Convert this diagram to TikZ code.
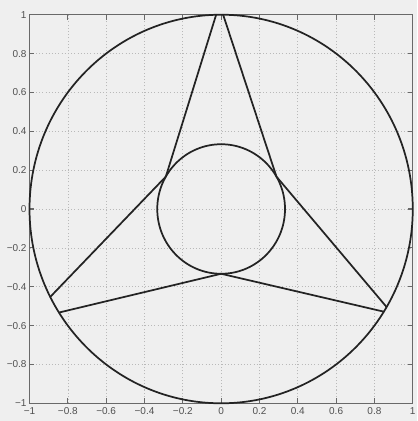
\documentclass[tikz,border=0pt]{standalone}
\usepackage{fontspec}
\setmainfont{Liberation Sans}
\definecolor{bgcol}{RGB}{239,239,239}
\definecolor{curvecol}{RGB}{35,35,35}
\definecolor{framecol}{RGB}{105,105,105}
\definecolor{gridcol}{RGB}{185,185,185}
\definecolor{labcol}{RGB}{80,80,80}
\begin{document}
\begin{tikzpicture}[x=143.7pt,y=145.7pt,
  curve/.style={line width=1.3pt,draw=curvecol,line cap=round,line join=round},
  frame/.style={line width=0.8pt,draw=framecol},
  gridl/.style={draw=gridcol,line width=0.5pt,dash pattern=on 0.8pt off 1.6pt},
  ticklab/.style={font=\fontsize{7.5}{8}\selectfont,text=labcol,inner sep=0pt}]
\useasboundingbox (-1.154,-1.0911) rectangle (1.0225,1.0757);
\fill[bgcol] (-1.154,-1.0911) rectangle (1.0225,1.0757);
% grid
\foreach \v in {-0.8,-0.6,-0.4,-0.2,0,0.2,0.4,0.6,0.8}{
  \draw[gridl] (\v,-1) -- (\v,1);
  \draw[gridl] (-1,\v) -- (1,\v);
}
% ticks
\foreach \v in {-0.8,-0.6,-0.4,-0.2,0,0.2,0.4,0.6,0.8}{
  \draw[frame] (\v,-1) -- (\v,-0.974);
  \draw[frame] (\v,1) -- (\v,0.974);
  \draw[frame] (-1,\v) -- (-0.974,\v);
  \draw[frame] (1,\v) -- (0.974,\v);
}
\draw[frame] (-1,-1) rectangle (1,1);
% tick labels
\foreach \v/\t in {-1/−1,-0.8/−0.8,-0.6/−0.6,-0.4/−0.4,-0.2/−0.2,0/0,0.2/0.2,0.4/0.4,0.6/0.6,0.8/0.8,1/1}{
  \node[ticklab,anchor=east] (yl\v) at (-1.014,\v) {\t};
  \node[ticklab,anchor=north] (xl\v) at (\v,-1.02) {\t};
}
% circles
\coordinate (O) at (0,0);
\draw[curve] (O) ellipse [x radius=143.7pt, y radius=145.7pt];
\draw[curve] (O) ellipse [x radius=47.9pt, y radius=48.57pt];
% spoke points
\coordinate (I1) at ({cos(30)/3},{sin(30)/3});
\coordinate (I2) at ({cos(150)/3},{sin(150)/3});
\coordinate (I3) at (0,{-1/3});
\coordinate (T1) at ({cos(91.5)},{sin(91.5)});
\coordinate (T2) at ({cos(89.4)},{sin(89.4)});
\coordinate (L1) at ({cos(206.9)},{sin(206.9)});
\coordinate (L2) at ({cos(212.2)},{sin(212.2)});
\coordinate (R1) at ({cos(-30.3)},{sin(-30.3)});
\coordinate (R2) at ({cos(-31.9)},{sin(-31.9)});
\draw[curve] (T1) -- (I2) -- (L1);
\draw[curve] (T2) -- (I1) -- (R1);
\draw[curve] (L2) -- (I3) -- (R2);
\end{tikzpicture}
\end{document}
